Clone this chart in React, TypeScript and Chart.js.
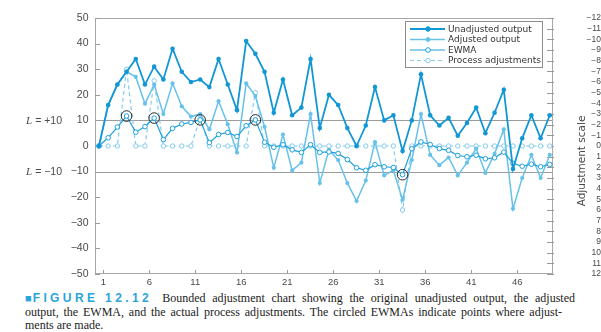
import React, { useEffect, useRef } from "react";
import { Chart, registerables } from "chart.js";

Chart.register(...registerables);

// ---------- data ----------
const observations = [
  1, 2, 3, 4, 5, 6, 7, 8, 9, 10, 11, 12, 13, 14, 15, 16, 17, 18, 19, 20, 21, 22, 23, 24, 25,
  26, 27, 28, 29, 30, 31, 32, 33, 34, 35, 36, 37, 38, 39, 40, 41, 42, 43, 44, 45, 46, 47, 48, 49, 50,
];
const unadjustedOutput = [
  0, 16, 24, 29, 34, 24, 31, 26, 38, 29, 25, 26, 23, 34, 24, 14, 41, 36, 29, 13, 26, 12, 15, 34, 7,
  20, 16, 7, 0, 8, 23, 10, 12, -2, 10, 28, 12, 8, 11, 4, 9, 15, 5, 13, 22, -9, 3, 12, 3, 12,
];
const adjustedOutput = [
  0, 16, 24, 29, 27, 16.5, 24, 12.5, 24.5, 15.5, 11.5, 12.5, 6.5, 17.5, 8.5, -2.5, 24.5, 19.5, 7.5, -8.5,
  4.5, -9.5, -6.5, 12.5, -14.5, -1.5, -5.5, -14.5, -21.5, -13.5, 1.5, -11.5, -9.5, -21, -5.5, 12.5,
  -3.5, -7.5, -4.5, -11.5, -6.5, -1, -10.5, -3, 6.5, -24.5, -12.5, -3.5, -12.5, -3.5,
];
const ewma = [
  0, 3.2, 7.4, 11.7, 5.4, 7.6, 10.9, 2.5, 6.9, 8.6, 9.2, 10.2, 1.3, 4.5, 5.3, 3.7, 7.9, 10.2, 1.5, -0.5,
  0.5, -1.5, -2.5, 0.5, -2.5, -2.3, -2.9, -5.3, -8.5, -9.5, -7.3, -8.1, -8.4, -11.2, -1.1, 1.6, 0.6,
  -1.0, -1.7, -3.7, -4.2, -3.6, -5.0, -4.6, -2.4, -6.8, -7.9, -7.1, -8.1, -7.2,
];
// process adjustments, in adjustment-scale units (right axis)
const processAdjustments = [
  0, 0, 0, -7.2, 0, 0, -6.1, 0, 0, 0, 0, -2.6, 0, 0, 0, 0, 0, -5.0, 0, 0, 0, 0, 0, 0, 0,
  0, 0, 0, 0, 0, 0, 0, 0, 6.0, 0, 0, 0, 0, 0, 0, 0, 0, 0, 0, 0, 0, 0, 0, 0, 0,
];
const circledObservations = [4, 7, 12, 18, 34];
const xTickLabels = [1, 6, 11, 16, 21, 26, 31, 36, 41, 46];
const limitLines = [10, -10];
const seriesNames = ["Unadjusted output", "Adjusted output", "EWMA", "Process adjustments"];

// ---------- styles ----------
const C_UNADJ = "#1297d5";
const C_ADJ = "#67c2ea";
const C_EWMA = "#1ea0dc";
const C_PROC = "#84cbee";
const TEXT = "#4a4a4a";
const X_TICK_SHIFT = 0.47;

const minusFmt = (v: number) => (v < 0 ? "\u2212" + Math.abs(v) : String(v));

const decor = {
  id: "decor",
  beforeDatasetsDraw(chart: any) {
    const { ctx, chartArea: a, scales } = chart;
    ctx.save();
    ctx.lineWidth = 1;
    ctx.strokeStyle = "#9c9c9c";
    for (const v of limitLines) {
      const y = Math.round(scales.y.getPixelForValue(v)) + 0.5;
      ctx.beginPath();
      ctx.moveTo(a.left, y);
      ctx.lineTo(a.right, y);
      ctx.stroke();
    }
    ctx.strokeStyle = "#a8a8a8";
    ctx.strokeRect(a.left + 0.5, a.top + 0.5, a.right - a.left - 1, a.bottom - a.top - 1);
    ctx.strokeStyle = "#9a9a9a";
    ctx.beginPath();
    for (const t of scales.y.ticks) {
      const y = Math.round(scales.y.getPixelForValue(t.value)) + 0.5;
      ctx.moveTo(a.left, y);
      ctx.lineTo(a.left + 5, y);
    }
    for (const t of scales.y2.ticks) {
      const y = Math.round(scales.y2.getPixelForValue(t.value)) + 0.5;
      ctx.moveTo(a.right - 6, y);
      ctx.lineTo(a.right + 1, y);
    }
    for (const t of scales.x.ticks) {
      const x = Math.round(scales.x.getPixelForValue(t.value)) + 0.5;
      ctx.moveTo(x, a.bottom);
      ctx.lineTo(x, a.bottom - 4);
    }
    ctx.stroke();
    ctx.restore();
  },
  afterDraw(chart: any) {
    const { ctx, scales } = chart;
    ctx.save();
    // legend
    const lx = 405, ly = 21, lw = 137, lh = 46;
    ctx.fillStyle = "#fff";
    ctx.fillRect(lx, ly, lw, lh);
    ctx.strokeStyle = "#8c8c8c";
    ctx.lineWidth = 1;
    ctx.strokeRect(lx + 0.5, ly + 0.5, lw, lh);
    const rows = [
      { color: C_UNADJ, dash: [], w: 1.8, fill: C_UNADJ, r: 2.3 },
      { color: C_ADJ, dash: [], w: 1.5, fill: C_ADJ, r: 2 },
      { color: C_EWMA, dash: [], w: 1.2, fill: "#fff", r: 2.3 },
      { color: C_PROC, dash: [4, 3], w: 1.2, fill: "#fff", r: 2.3 },
    ];
    const rowY = [29, 39.5, 50, 60.5];
    rows.forEach((r, i) => {
      const y = rowY[i];
      ctx.strokeStyle = r.color;
      ctx.lineWidth = r.w;
      ctx.setLineDash(r.dash);
      ctx.beginPath();
      ctx.moveTo(410, y);
      ctx.lineTo(445, y);
      ctx.stroke();
      ctx.setLineDash([]);
      ctx.beginPath();
      ctx.arc(428, y, r.r, 0, Math.PI * 2);
      ctx.fillStyle = r.fill;
      ctx.fill();
      ctx.lineWidth = 1;
      ctx.stroke();
      ctx.fillStyle = "#333";
      ctx.font = '9px "DejaVu Sans"';
      ctx.textAlign = "left";
      ctx.textBaseline = "middle";
      ctx.fillText(seriesNames[i], 448, y + 0.5);
    });
    // L labels
    limitLines.forEach((v) => {
      const y = scales.y.getPixelForValue(v) + 1;
      const rest = v > 0 ? " = +" + v : " = \u2212" + Math.abs(v);
      ctx.font = '10.5px "Liberation Sans"';
      const w = ctx.measureText(rest).width;
      ctx.fillStyle = TEXT;
      ctx.textAlign = "left";
      ctx.textBaseline = "middle";
      ctx.fillText(rest, 62 - w, y);
      ctx.font = 'italic 11px "Liberation Serif"';
      ctx.textAlign = "right";
      ctx.fillText("L", 62 - w, y);
    });
    // right axis title
    ctx.translate(582, 161);
    ctx.rotate(-Math.PI / 2);
    ctx.font = '10.5px "DejaVu Sans"';
    ctx.fillStyle = TEXT;
    ctx.textAlign = "center";
    ctx.textBaseline = "middle";
    ctx.fillText("Adjustment scale", 0, 0);
    ctx.restore();
  },
};

const pts = (arr: number[]) => observations.map((o, i) => ({ x: o, y: arr[i] }));

export default function App() {
  const ref = useRef<HTMLCanvasElement | null>(null);

  useEffect(() => {
    if (!ref.current) return;
    const chart = new Chart(ref.current, {
      type: "line",
      data: {
        datasets: [
          {
            label: "circled",
            data: circledObservations.map((o) => ({ x: o, y: ewma[o - 1] })),
            showLine: false,
            pointStyle: "circle",
            pointRadius: 5.3,
            pointBorderColor: "#2a2a2a",
            pointBorderWidth: 1,
            pointBackgroundColor: "rgba(0,0,0,0)",
            order: 0,
          },
          {
            label: seriesNames[0],
            data: pts(unadjustedOutput),
            borderColor: C_UNADJ,
            backgroundColor: C_UNADJ,
            borderWidth: 1.8,
            pointRadius: 2.3,
            pointBorderWidth: 0,
            pointBackgroundColor: C_UNADJ,
            order: 1,
          },
          {
            label: seriesNames[2],
            data: pts(ewma),
            borderColor: C_EWMA,
            borderWidth: 1.2,
            pointRadius: 2.3,
            pointBackgroundColor: "#fff",
            pointBorderColor: C_EWMA,
            pointBorderWidth: 1,
            order: 2,
          },
          {
            label: seriesNames[1],
            data: pts(adjustedOutput),
            borderColor: C_ADJ,
            backgroundColor: C_ADJ,
            borderWidth: 1.5,
            pointRadius: 2.1,
            pointBorderWidth: 0,
            pointBackgroundColor: C_ADJ,
            order: 3,
          },
          {
            label: seriesNames[3],
            data: pts(processAdjustments),
            yAxisID: "y2",
            borderColor: C_PROC,
            borderDash: [4, 3],
            borderWidth: 1.2,
            pointRadius: 2.2,
            pointBackgroundColor: "#fff",
            pointBorderColor: C_PROC,
            pointBorderWidth: 1,
            order: 4,
          },
        ],
      },
      options: {
        responsive: false,
        animation: false,
        events: [],
        layout: { padding: { top: 18, left: 0, right: 0, bottom: 0 } },
        plugins: { legend: { display: false }, tooltip: { enabled: false } },
        scales: {
          x: {
            type: "linear",
            min: 0.57,
            max: 50.35,
            grid: { display: false, drawTicks: false },
            border: { display: false },
            afterBuildTicks: (s: any) => {
              s.ticks = xTickLabels.map((v) => ({ value: v + X_TICK_SHIFT }));
            },
            afterFit: (s: any) => {
              s.height = 16;
            },
            ticks: {
              autoSkip: false,
              maxRotation: 0,
              padding: 3,
              color: TEXT,
              font: { family: "Liberation Sans", size: 9.5 },
              callback: (v: any) => String(Math.round(Number(v) - X_TICK_SHIFT)),
            },
          },
          y: {
            min: -50,
            max: 50,
            grid: { display: false, drawTicks: false },
            border: { display: false },
            afterFit: (s: any) => {
              s.width = 95;
            },
            ticks: {
              stepSize: 10,
              padding: 6.5,
              color: TEXT,
              font: { family: "Liberation Sans", size: 10.5 },
              callback: (v: any) => minusFmt(Number(v)),
            },
          },
          y2: {
            position: "right",
            min: -12,
            max: 12,
            reverse: true,
            grid: { display: false, drawTicks: false },
            border: { display: false },
            afterFit: (s: any) => {
              s.width = 48;
            },
            ticks: {
              stepSize: 1,
              autoSkip: false,
              padding: 0.5,
              crossAlign: "far",
              color: TEXT,
              font: { family: "Liberation Sans", size: 8.5 },
              callback: (v: any) => minusFmt(Number(v)),
            },
          },
        },
      },
      plugins: [decor],
    } as any);
    return () => chart.destroy();
  }, []);

  return (
    <div style={{ position: "absolute", left: 0, top: 0, width: 601, height: 332, background: "#fff", overflow: "hidden" }}>
      <canvas ref={ref} width={601} height={290} style={{ display: "block" }} />
      <div
        style={{
          position: "absolute",
          left: 25,
          top: 292,
          width: 550,
          fontFamily: '"Liberation Serif", serif',
          fontSize: "12px",
          lineHeight: "13.6px",
          color: "#222",
        }}
      >
        <div style={{ display: "flex", alignItems: "baseline", whiteSpace: "nowrap" }}>
          <span style={{ color: "#2aa4dc", fontFamily: '"Liberation Sans"', fontSize: "11px", marginRight: 1 }}>■</span>
          <span
            style={{
              color: "#2aa4dc",
              fontFamily: '"Liberation Sans"',
              fontWeight: "bold",
              fontSize: "12px",
              letterSpacing: "3.4px",
            }}
          >
            FIGURE 12.12
          </span>
          <span style={{ marginLeft: 10, flex: 1, textAlign: "justify", textAlignLast: "justify" } as any}>
            Bounded adjustment chart showing the original unadjusted output, the adjusted
          </span>
        </div>
        <div style={{ width: 537, whiteSpace: "nowrap", textAlign: "justify", textAlignLast: "justify" } as any}>
          output, the EWMA, and the actual process adjustments. The circled EWMAs indicate points where adjust-
        </div>
        <div>ments are made.</div>
      </div>
    </div>
  );
}
